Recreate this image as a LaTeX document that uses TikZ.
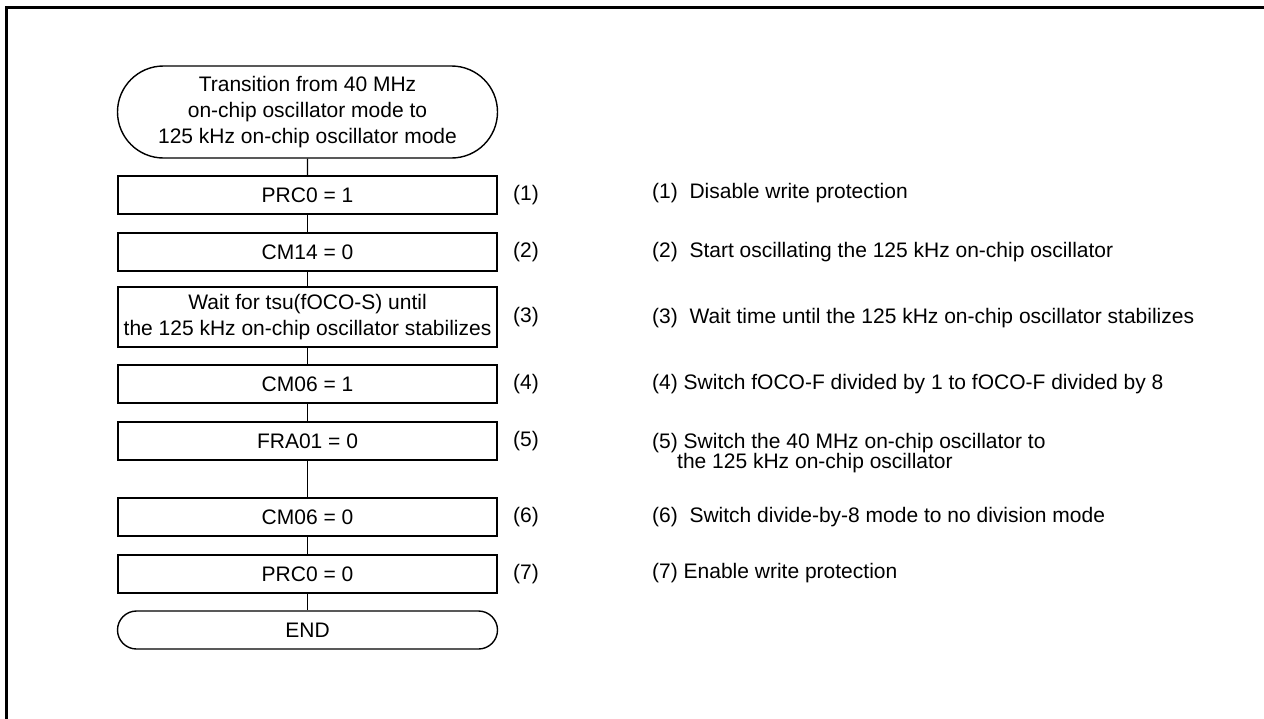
\documentclass[tikz,border=0pt]{standalone}
\usepackage{fontspec}
\setmainfont{Liberation Sans}
\usetikzlibrary{shapes.misc}
\begin{document}
\begin{tikzpicture}[x=1pt,y=-1pt,
  every node/.style={font=\fontsize{21}{26}\selectfont, inner sep=0pt},
  stepbox/.style={draw, line width=1.6pt, minimum width=379pt, minimum height=38pt, align=center},
  term/.style={draw, line width=1.4pt, rounded rectangle, rounded rectangle arc length=180, minimum width=380pt, align=center},
  conn/.style={line width=1.3pt},
  note/.style={anchor=west, align=left},
  frame/.style={line width=2.7pt}]
\useasboundingbox (0,0) rectangle (1264,718);
% frame (top and left edges)
\coordinate (fb) at (6.3,720);
\coordinate (fc) at (6.3,7.3);
\coordinate (fr) at (1266,7.3);
\draw[frame] (fb) -- (fc) -- (fr);

% flow nodes
\node[term, minimum height=92pt] (start) at (307.5,112) {Transition from 40 MHz\\on-chip oscillator mode to\\125 kHz on-chip oscillator mode};
\node[stepbox] (b1) at (307.5,195) {PRC0 = 1};
\node[stepbox] (b2) at (307.5,252) {CM14 = 0};
\node[stepbox, minimum height=60pt] (b3) at (307.5,317) {Wait for tsu(fOCO-S) until\\the 125 kHz on-chip oscillator stabilizes};
\node[stepbox] (b4) at (307.5,384) {CM06 = 1};
\node[stepbox] (b5) at (307.5,441) {FRA01 = 0};
\node[stepbox] (b6) at (307.5,517) {CM06 = 0};
\node[stepbox] (b7) at (307.5,574) {PRC0 = 0};
\node[term, minimum height=38pt] (end) at (307.5,630) {END};

% connectors
\draw[conn] (start) -- (b1);
\draw[conn] (b1) -- (b2);
\draw[conn] (b2) -- (b3);
\draw[conn] (b3) -- (b4);
\draw[conn] (b4) -- (b5);
\draw[conn] (b5) -- (b6);
\draw[conn] (b6) -- (b7);
\draw[conn] (b7) -- (end);

% step numbers
\node (n1) at (526,195) {(1)};
\node (n2) at (526,252) {(2)};
\node (n3) at (526,317) {(3)};
\node (n4) at (526,384) {(4)};
\node (n5) at (526,441) {(5)};
\node (n6) at (526,517) {(6)};
\node (n7) at (526,574) {(7)};

% notes
\node[note] (t1) at (652,193) {(1)\ \ Disable write protection};
\node[note] (t2) at (652,252) {(2)\ \ Start oscillating the 125 kHz on-chip oscillator};
\node[note] (t3) at (652,318) {(3)\ \ Wait time until the 125 kHz on-chip oscillator stabilizes};
\node[note] (t4) at (652,384) {(4) Switch fOCO-F divided by 1 to fOCO-F divided by 8};
\node[note, font=\fontsize{21}{17.5}\selectfont] (t5) at (652,453) {(5) Switch the 40 MHz on-chip oscillator to\\\hspace*{25pt}the 125 kHz on-chip oscillator};
\node[note] (t6) at (652,517) {(6)\ \ Switch divide-by-8 mode to no division mode};
\node[note] (t7) at (652,573) {(7) Enable write protection};
\end{tikzpicture}
\end{document}
